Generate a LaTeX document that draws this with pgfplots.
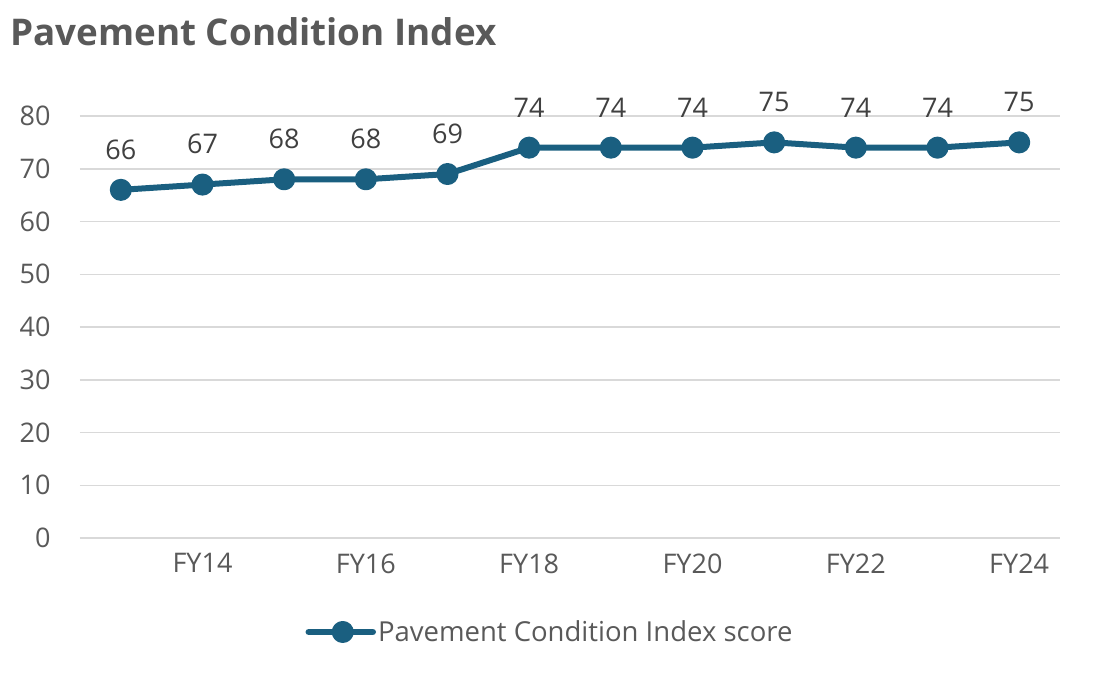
\documentclass[border=0pt]{standalone}
\usepackage{pgfplots}
\pgfplotsset{compat=1.18}
\usepackage{fontspec}
\setmainfont{Open Sans}
\definecolor{line}{HTML}{1A5F80}
\definecolor{txt}{HTML}{595959}
\definecolor{lbl}{HTML}{404040}
\definecolor{grid}{HTML}{D9D9D9}
\begin{document}
\begin{tikzpicture}[x=1pt,y=1pt]
\path[use as bounding box] (-80,-140) rectangle (1013,538);
\begin{axis}[
  at={(0,0)}, anchor=south west,
  scale only axis, width=980pt, height=422pt,
  xmin=-0.5, xmax=11.5, ymin=0, ymax=80,
  xtick={1,3,5,7,9,11},
  xticklabels={FY14,FY16,FY18,FY20,FY22,FY24},
  ytick={0,10,...,80},
  xmajorgrids=false, ymajorgrids=true,
  y grid style={grid, line width=1.5pt},
  axis line style={draw=none},
  axis x line*=bottom, axis y line*=left,
  x axis line style={draw=grid, line width=1.5pt},
  major tick length=0pt, tick style={draw=none},
  tick label style={font=\fontsize{27}{32}\selectfont, text=txt},
  xticklabel style={yshift=-12pt},
  yticklabel style={xshift=-26pt},
  /pgf/number format/assume math mode=true,
  clip=false,
  nodes near coords,
  every node near coord/.append style={font=\fontsize{27}{32}\selectfont, text=lbl, yshift=24pt},
  legend style={at={(0.4796,-0.2227)}, anchor=center, draw=none, fill=none,
    font=\fontsize{27.5}{32}\selectfont, text=txt, inner xsep=0pt,
    /tikz/every even column/.append style={column sep=0pt}},
  legend image code/.code={%
    \draw[line width=6.5pt, line cap=round] (-4pt,0pt) -- (60pt,0pt);
    \fill (30pt,0pt) circle (8pt);},
]
\addplot[color=line, line width=6pt, mark=*, mark size=8pt, line join=round] coordinates {
(0,66) (1,67) (2,68) (3,68) (4,69) (5,74) (6,74) (7,74) (8,75) (9,74) (10,74) (11,75)
};
\addlegendentry{Pavement Condition Index score}
\end{axis}
\node[anchor=west, inner xsep=0pt, font=\bfseries\fontsize{36.8}{42}\selectfont, text=txt] at (-70,506) {Pavement Condition Index};
\end{tikzpicture}
\end{document}
